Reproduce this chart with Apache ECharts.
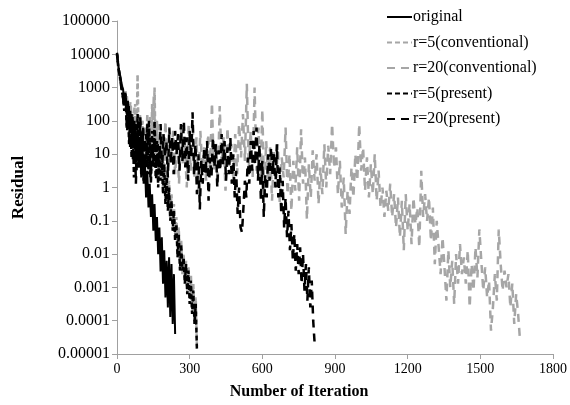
<!DOCTYPE html>
<html>
<head>
<meta charset="utf-8">
<script src="https://cdn.jsdelivr.net/npm/echarts@6/dist/echarts.min.js"></script>
<style>
  html, body { margin: 0; padding: 0; background: #ffffff; }
  #chart { width: 570px; height: 405px; }
</style>
</head>
<body>
<div id="chart"></div>
<script>
// Residual history of the iterative solver, sampled every few iterations.
const xTicks = { min: 0, max: 1800, interval: 300 };
const yTickLabels = ['0.00001', '0.0001', '0.001', '0.01', '0.1', '1', '10', '100', '1000', '10000', '100000'];

const originalStep = 5;
const originalResidual = [
  1.1e4, 5e3, 2.8e3, 2e3, 1.1e3, 9e2, 4e2, 7e2, 1.6e2, 4e2,
  63, 2e2, 32, 130, 16, 80, 6.3, 50, 4, 32,
  2, 16, 1.3, 6.3, 0.5, 3.2, 0.25, 1.3, 0.13, 0.63,
  0.05, 0.32, 0.025, 0.13, 0.01, 0.063, 0.003, 0.032, 0.0013, 0.013,
  5e-4, 6.3e-3, 2.5e-4, 8e-3, 1.3e-4, 5e-3, 8e-5, 2.5e-3, 4e-5
];

const r5ConventionalStep = 5;
const r5ConventionalResidual = [
  1e4, 4e3, 2.2e3, 1.3e3, 1e3, 6.3e2, 3.2e2, 8e2, 1e2, 4e2,
  40, 2.5e2, 20, 1.6e2, 10, 3.2e2, 16, 2.5e3, 10, 1.6e2,
  4, 1e2, 2.5, 63, 6.3, 1.6e2, 3.2, 80, 2, 3.2e2,
  8, 1e3, 5, 1e2, 1.6, 40, 3.2, 20, 1, 10,
  0.5, 4, 0.32, 1.6, 0.16, 0.63, 0.08, 0.32, 0.04, 0.13,
  0.016, 0.063, 0.005, 0.025, 0.0025, 0.01, 0.0016, 0.0063, 8e-4, 0.004,
  5e-4, 0.0025, 2.5e-4, 0.0013, 1e-4, 5e-4, 1.6e-5
];

const r20ConventionalStep = 8;
const r20ConventionalResidual = [
  1e4, 3.2e3, 1.6e3, 9e2, 4e2, 6.3e2, 1.3e2, 4e2, 32, 2.5e2,
  10, 1.6e2, 5, 1e2, 2.5, 63, 13, 1.3e2, 3.2, 6.3e2,
  6.3, 80, 2, 40, 4, 1e2, 1.6, 32, 8, 50,
  2.5, 25, 1.3, 63, 5, 20, 1, 80, 3.2, 1e2,
  2, 32, 0.63, 50, 4, 16, 1.6, 40, 2.5, 3.5e2,
  3.2, 25, 1.3, 2.8e2, 5, 32, 0.8, 63, 4, 20,
  1.6, 40, 2.5, 80, 8, 1.6e2, 6.3, 1.3e3, 4, 50,
  2, 1e3, 3.2, 63, 1.3, 2.2e2, 0.5, 25, 1.6, 16,
  0.4, 13, 1, 20, 0.32, 8, 2, 63, 0.63, 10,
  0.2, 6.3, 0.8, 16, 0.4, 56, 1.3, 8, 0.11, 5,
  0.5, 13, 1.6, 10, 0.32, 4, 0.63, 20, 1, 18,
  2.5, 80, 4, 16, 0.63, 6.3, 0.25, 2, 0.04, 0.8,
  0.16, 4, 0.5, 10, 1.6, 80, 3.2, 16, 0.8, 8,
  0.5, 5, 0.63, 10, 0.4, 3.2, 0.25, 1, 0.13, 0.8,
  0.2, 1.3, 0.13, 0.63, 0.063, 0.5, 0.032, 0.4, 0.013, 0.63,
  0.05, 0.32, 0.02, 0.5, 0.08, 0.25, 0.016, 3.2, 0.13, 0.63,
  0.1, 0.5, 0.025, 0.25, 0.005, 0.1, 0.016, 0.0025, 0.032, 0.004,
  4e-4, 0.013, 0.001, 0.0063, 3.2e-4, 0.01, 0.0013, 0.02, 0.0025, 0.008,
  0.0013, 0.013, 2.5e-4, 0.005, 8e-4, 0.016, 0.002, 0.055, 0.0063, 8e-4,
  0.004, 5e-4, 0.0016, 5e-5, 2.5e-4, 0.0025, 4e-4, 0.055, 0.005, 8e-4,
  0.0032, 0.001, 0.0025, 2.5e-4, 0.0013, 8e-5, 6.3e-4, 1.6e-4, 2.5e-5
];

const r5PresentStep = 5;
const r5PresentResidual = [
  1.1e4, 4.5e3, 2.5e3, 1.6e3, 8e2, 5e2, 2e2, 6.3e2, 63, 3.2e2,
  20, 1.6e2, 8, 1e2, 2, 63, 3.2, 1.6e2, 6.3, 1e2,
  2.5, 40, 1.6, 25, 4, 80, 2.5, 32, 1.3, 50,
  4, 1e2, 2, 25, 1, 16, 1.6, 8, 0.63, 5,
  0.32, 2, 0.2, 1, 0.1, 0.4, 0.05, 0.2, 0.025, 0.08,
  0.008, 0.04, 0.0032, 0.02, 0.0032, 0.008, 0.0013, 0.005, 6.3e-4, 0.0032,
  3.2e-4, 0.0016, 1.6e-4, 8e-4, 8e-5, 3.2e-4, 1.3e-5
];

const r20PresentStep = 6;
const r20PresentResidual = [
  1e4, 4e3, 2e3, 1e3, 5.6e2, 2.5e2, 5e2, 50, 3.2e2, 16,
  1.6e2, 6.3, 1e2, 1.3, 80, 4, 1.3e2, 8, 63, 2.5,
  40, 5, 1e2, 2, 32, 6.3, 50, 1.6, 20, 4,
  80, 3.2, 40, 8, 25, 2, 63, 5, 32, 2.5,
  50, 10, 40, 3.2, 80, 6.3, 1e2, 4, 32, 1.6,
  50, 8, 1.8e2, 2.5, 20, 0.63, 10, 0.22, 6.3, 1.3,
  16, 2.5, 25, 0.4, 8, 2, 32, 4, 20, 1,
  13, 3.2, 40, 5, 25, 1.6, 16, 2.5, 32, 1.3,
  10, 0.5, 3.2, 0.16, 1, 0.063, 0.045, 0.25, 1.6, 0.5,
  8, 1.3, 25, 3.2, 50, 5, 63, 1.6, 20, 0.4,
  6.3, 0.13, 2.5, 0.5, 10, 1.6, 16, 2.5, 10, 1,
  20, 0.5, 4, 0.16, 1.6, 0.063, 0.5, 0.032, 0.2, 0.013,
  0.08, 0.0063, 0.04, 0.0032, 0.02, 0.0025, 0.016, 0.0013, 0.01, 8e-4,
  0.005, 4e-4, 0.004, 2.5e-4, 0.0016, 1e-4, 2e-5
];

const names = ['original', 'r=5(conventional)', 'r=20(conventional)', 'r=5(present)', 'r=20(present)'];

function toPoints(step, values) {
  return values.map((v, i) => [i * step, v]);
}

const FONT = '"Liberation Serif", "Times New Roman", serif';
const GRAY = '#a6a6a6';
const AXIS = '#a0a0a0';

function lineSeries(name, step, values, color, dash, width, z) {
  return {
    name: name,
    type: 'line',
    data: toPoints(step, values),
    symbol: 'none',
    showSymbol: false,
    z: z,
    lineStyle: { color: color, width: width, type: dash },
    itemStyle: { color: color },
    emphasis: { disabled: true }
  };
}

const chart = echarts.init(document.getElementById('chart'), null, { renderer: 'canvas' });
chart.setOption({
  animation: false,
  backgroundColor: '#ffffff',
  grid: { left: 117, right: 15, top: 21, bottom: 47, containLabel: false },
  legend: {
    data: names,
    orient: 'vertical',
    left: 381,
    top: 4,
    itemWidth: 25,
    itemHeight: 14,
    itemGap: 9.5,
    itemStyle: { opacity: 0 },
    textStyle: { fontFamily: FONT, fontSize: 16, color: '#000', padding: [0, 0, 0, -4] },
    selectedMode: false
  },
  xAxis: {
    type: 'value',
    min: xTicks.min,
    max: xTicks.max,
    interval: xTicks.interval,
    splitLine: { show: false },
    axisLine: { lineStyle: { color: AXIS, width: 1 } },
    axisTick: { show: true, inside: false, length: 5, lineStyle: { color: AXIS } },
    axisLabel: { fontFamily: FONT, fontSize: 14, color: '#000', margin: 8, formatter: v => String(v) },
    name: 'Number of Iteration',
    nameLocation: 'middle',
    nameGap: 30,
    nameTextStyle: { fontFamily: FONT, fontSize: 16, fontWeight: 'bold', color: '#000', padding: [0, 72, 0, 0] }
  },
  yAxis: {
    type: 'log',
    logBase: 10,
    min: 1e-5,
    max: 1e5,
    interval: 1,
    splitLine: { show: false },
    axisLine: { show: true, lineStyle: { color: AXIS, width: 1 } },
    axisTick: { show: true, inside: false, length: 5, lineStyle: { color: AXIS } },
    axisLabel: {
      fontFamily: FONT, fontSize: 16, color: '#000', margin: 7,
      formatter: v => yTickLabels[Math.round(Math.log10(v)) + 5]
    },
    name: 'Residual',
    nameLocation: 'middle',
    nameGap: 90,
    nameRotate: 90,
    nameTextStyle: { fontFamily: FONT, fontSize: 17, fontWeight: 'bold', color: '#000' }
  },
  series: [
    lineSeries(names[2], r20ConventionalStep, r20ConventionalResidual, GRAY, [8, 6], 2.5, 2),
    lineSeries(names[1], r5ConventionalStep, r5ConventionalResidual, GRAY, [5, 3], 2.5, 3),
    lineSeries(names[4], r20PresentStep, r20PresentResidual, '#000000', [8, 6], 2.5, 4),
    lineSeries(names[3], r5PresentStep, r5PresentResidual, '#000000', [5, 3], 2.5, 5),
    lineSeries(names[0], originalStep, originalResidual, '#000000', 'solid', 2, 6)
  ]
});
</script>
</body>
</html>
